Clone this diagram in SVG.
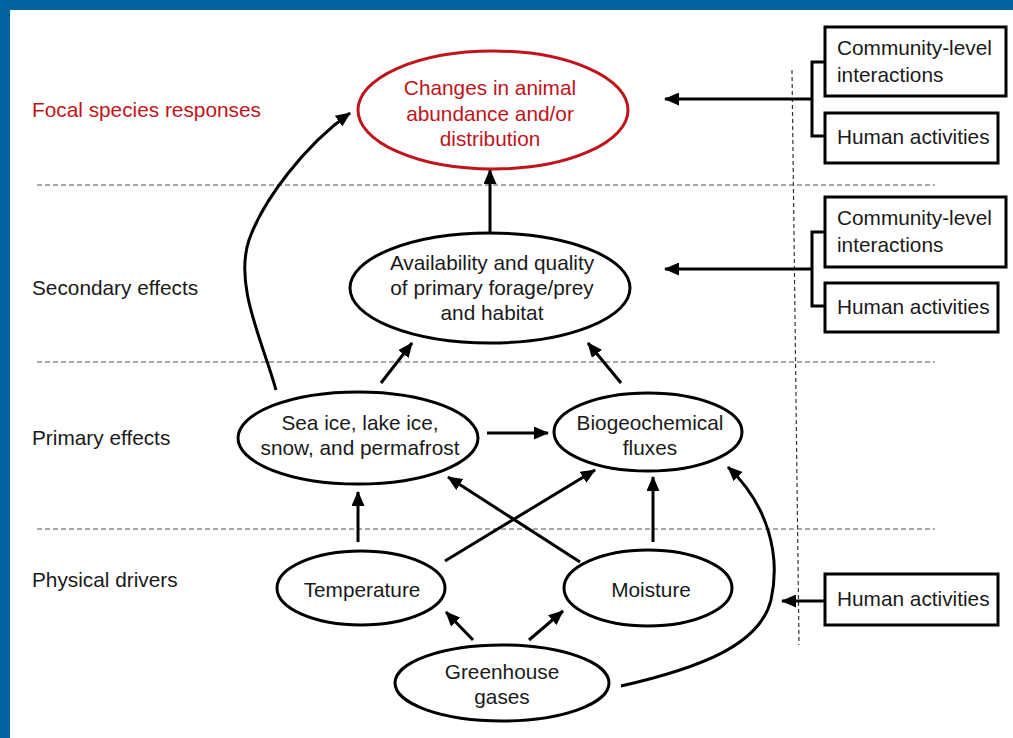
<svg xmlns="http://www.w3.org/2000/svg" width="1013" height="738" viewBox="0 0 1013 738">
  <style>
    text { font-family: "Liberation Sans", Arial, sans-serif; font-size: 20.8px; fill: #1a1a1a; }
    .mid { text-anchor: middle; }
    .red { fill: #c0141c; }
    .node { fill: #ffffff; stroke: #000; stroke-width: 3; }
    .focal { fill: #ffffff; stroke: #c0141c; stroke-width: 3; }
    .box { fill: #ffffff; stroke: #000; stroke-width: 3; }
    .arrow { fill: none; stroke: #000; stroke-width: 3; marker-end: url(#head); }
    .line { fill: none; stroke: #000; stroke-width: 3; }
    .tier { stroke: #555; stroke-width: 1.2; stroke-dasharray: 5 3; }
  </style>
  <defs>
    <marker id="head" markerUnits="userSpaceOnUse" markerWidth="15" markerHeight="13" refX="14" refY="6.5" orient="auto">
      <path d="M0,0 L15,6.5 L0,13 z" fill="#000"/>
    </marker>
  </defs>

  <!-- page background and frame -->
  <rect x="0" y="0" width="1013" height="738" fill="#ffffff"/>
  <rect x="0" y="0" width="1013" height="10" fill="#0063a1"/>
  <rect x="0" y="0" width="10" height="738" fill="#0063a1"/>

  <!-- tier separators -->
  <g id="tiers">
    <line class="tier" x1="37" y1="185" x2="935" y2="185"/>
    <line class="tier" x1="37" y1="362" x2="935" y2="362"/>
    <line class="tier" x1="37" y1="529" x2="935" y2="529"/>
    <line x1="792" y1="70" x2="799" y2="645" stroke="#333" stroke-width="1.2" stroke-dasharray="4 3"/>
  </g>

  <!-- tier labels -->
  <g id="labels">
    <text class="red" x="32" y="117">Focal species responses</text>
    <text x="32" y="295">Secondary effects</text>
    <text x="32" y="445">Primary effects</text>
    <text x="32" y="587">Physical drivers</text>
  </g>

  <!-- connectors -->
  <g id="connectors">
    <line class="arrow" x1="490" y1="233" x2="490" y2="170"/>
    <line class="arrow" x1="381" y1="383" x2="412" y2="343"/>
    <line class="arrow" x1="621" y1="383" x2="588" y2="343"/>
    <line class="arrow" x1="487" y1="433" x2="548" y2="433"/>
    <line class="arrow" x1="358" y1="542" x2="358" y2="492"/>
    <line class="arrow" x1="445" y1="561" x2="595" y2="470"/>
    <line class="arrow" x1="580" y1="562" x2="448" y2="477"/>
    <line class="arrow" x1="653" y1="542" x2="653" y2="477"/>
    <line class="arrow" x1="473" y1="640" x2="446" y2="612"/>
    <line class="arrow" x1="529" y1="640" x2="563" y2="611"/>
    <path class="arrow" d="M621,686 C700,668 760,645 771,600 C781,555 768,505 728,467"/>
    <path class="arrow" d="M276,390 C262,340 234,285 249,240 C263,200 305,145 350,113"/>
    <!-- external influences -->
    <path class="line" d="M825,62 H812 V136 H825"/>
    <line class="arrow" x1="812" y1="99" x2="665" y2="99"/>
    <path class="line" d="M825,232 H812 V306 H825"/>
    <line class="arrow" x1="812" y1="269" x2="665" y2="269"/>
    <line class="arrow" x1="825" y1="601" x2="782" y2="601"/>
  </g>

  <!-- nodes -->
  <g id="node-changes">
    <ellipse class="focal" cx="493" cy="110" rx="135" ry="59"/>
    <text class="mid red" x="490" y="95">Changes in animal</text>
    <text class="mid red" x="490" y="121">abundance and/or</text>
    <text class="mid red" x="490" y="146">distribution</text>
  </g>
  <g id="node-availability">
    <ellipse class="node" cx="490" cy="288" rx="140" ry="55"/>
    <text class="mid" x="492" y="270">Availability and quality</text>
    <text class="mid" x="492" y="295">of primary forage/prey</text>
    <text class="mid" x="492" y="320">and habitat</text>
  </g>
  <g id="node-ice">
    <ellipse class="node" cx="358" cy="438" rx="120" ry="46"/>
    <text class="mid" x="360" y="430">Sea ice, lake ice,</text>
    <text class="mid" x="360" y="455">snow, and permafrost</text>
  </g>
  <g id="node-biogeochemical">
    <ellipse class="node" cx="648" cy="432" rx="94" ry="39"/>
    <text class="mid" x="650" y="430">Biogeochemical</text>
    <text class="mid" x="650" y="455">fluxes</text>
  </g>
  <g id="node-temperature">
    <ellipse class="node" cx="361" cy="588" rx="84" ry="37"/>
    <text class="mid" x="362" y="597">Temperature</text>
  </g>
  <g id="node-moisture">
    <ellipse class="node" cx="648" cy="588" rx="84" ry="38"/>
    <text class="mid" x="651" y="597">Moisture</text>
  </g>
  <g id="node-greenhouse">
    <ellipse class="node" cx="502" cy="683" rx="107" ry="38"/>
    <text class="mid" x="502" y="679">Greenhouse</text>
    <text class="mid" x="502" y="704">gases</text>
  </g>

  <!-- external influence boxes -->
  <g id="box-community-1">
    <rect class="box" x="825" y="27" width="181" height="69"/>
    <text x="837" y="55">Community-level</text>
    <text x="837" y="82">interactions</text>
  </g>
  <g id="box-human-1">
    <rect class="box" x="825" y="113" width="173" height="50"/>
    <text x="837" y="144">Human activities</text>
  </g>
  <g id="box-community-2">
    <rect class="box" x="825" y="197" width="181" height="70"/>
    <text x="837" y="225">Community-level</text>
    <text x="837" y="252">interactions</text>
  </g>
  <g id="box-human-2">
    <rect class="box" x="825" y="283" width="173" height="49"/>
    <text x="837" y="314">Human activities</text>
  </g>
  <g id="box-human-3">
    <rect class="box" x="825" y="574" width="173" height="51"/>
    <text x="837" y="606">Human activities</text>
  </g>
</svg>
